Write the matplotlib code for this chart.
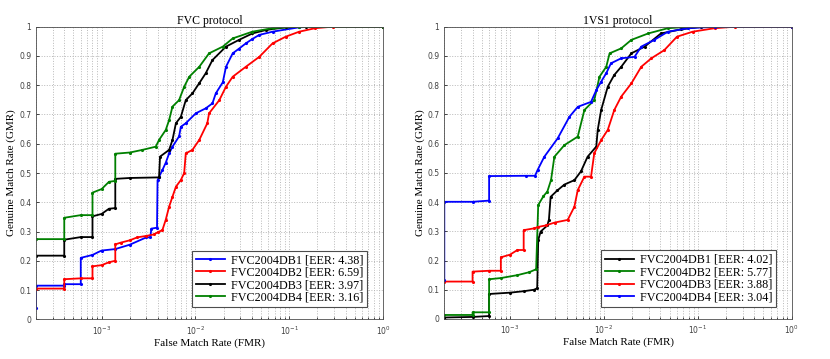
import numpy as np
import matplotlib
matplotlib.use("Agg")
import matplotlib.pyplot as plt
from matplotlib.ticker import LogLocator, FixedLocator, FuncFormatter, NullFormatter

# ---- FVC protocol (left) ----
fvc_db1_x = [2e-4, 2e-4, 4e-4, 4e-4, 6e-4, 6e-4, 8e-4, 1e-3, 1.4e-3, 2e-3, 3e-3, 3.3e-3, 3.4e-3, 3.9e-3, 3.95e-3,
             4.1e-3, 4.45e-3, 4.83e-3, 5.25e-3, 5.7e-3, 6.7e-3, 7.0e-3, 7.9e-3, 1.01e-2, 1.29e-2, 1.52e-2, 1.65e-2,
             1.96e-2, 2.12e-2, 2.5e-2, 2.92e-2, 3.45e-2, 4.05e-2, 4.8e-2, 6.65e-2, 0.128, 0.19, 1.0]
fvc_db1_y = [0.04, 0.115, 0.115, 0.12, 0.12, 0.21, 0.22, 0.235, 0.24, 0.255, 0.28, 0.28, 0.31, 0.313, 0.475,
             0.487, 0.51, 0.535, 0.567, 0.59, 0.625, 0.658, 0.67, 0.704, 0.721, 0.738, 0.772,
             0.81, 0.863, 0.909, 0.925, 0.943, 0.958, 0.972, 0.983, 0.998, 1.0, 1.0]

fvc_db2_x = [2e-4, 4e-4, 4e-4, 6e-4, 8e-4, 8e-4, 1e-3, 1.2e-3, 1.4e-3, 1.4e-3, 1.6e-3, 2e-3, 2.4e-3, 3e-3, 3.6e-3,
             4e-3, 4.45e-3, 4.83e-3, 5.25e-3, 5.7e-3, 6.2e-3, 7.0e-3, 7.6e-3, 7.9e-3, 9.3e-3, 1.1e-2, 1.34e-2,
             1.4e-2, 1.8e-2, 2.12e-2, 2.5e-2, 3.45e-2, 4.8e-2, 6.65e-2, 9.2e-2, 0.128, 0.19, 0.29, 1.0]
fvc_db2_y = [0.105, 0.105, 0.137, 0.14, 0.14, 0.181, 0.185, 0.195, 0.2, 0.256, 0.262, 0.27, 0.28, 0.285, 0.29,
             0.298, 0.305, 0.34, 0.385, 0.419, 0.453, 0.476, 0.5, 0.567, 0.579, 0.613, 0.67,
             0.704, 0.749, 0.795, 0.829, 0.863, 0.897, 0.943, 0.966, 0.983, 0.995, 1.0, 1.0]

fvc_db3_x = [2e-4, 4e-4, 4e-4, 6e-4, 8e-4, 8e-4, 1e-3, 1.2e-3, 1.4e-3, 1.4e-3, 2e-3, 4.1e-3, 4.2e-3, 5.25e-3,
             5.7e-3, 6.2e-3, 7.0e-3, 7.9e-3, 9.3e-3, 1.1e-2, 1.29e-2, 1.52e-2, 2.12e-2, 2.92e-2, 4.05e-2, 5.7e-2,
             9.2e-2, 0.15, 1.0]
fvc_db3_y = [0.2175, 0.2175, 0.272, 0.281, 0.281, 0.352, 0.36, 0.378, 0.38, 0.48, 0.483, 0.485, 0.556, 0.579,
             0.613, 0.67, 0.692, 0.749, 0.772, 0.807, 0.841, 0.886, 0.932, 0.955, 0.977, 0.989,
             0.998, 1.0, 1.0]

fvc_db4_x = [2e-4, 4e-4, 4e-4, 6e-4, 8e-4, 8e-4, 1e-3, 1.2e-3, 1.4e-3, 1.4e-3, 2e-3, 2.72e-3, 3.78e-3, 4.1e-3,
             4.83e-3, 5.25e-3, 5.7e-3, 6.7e-3, 7.6e-3, 8.6e-3, 1.1e-2, 1.4e-2, 1.96e-2, 2.5e-2, 4.05e-2, 6.65e-2,
             0.128, 1.0]
fvc_db4_y = [0.274, 0.274, 0.347, 0.356, 0.356, 0.433, 0.445, 0.47, 0.473, 0.566, 0.57, 0.579, 0.59, 0.613,
             0.647, 0.681, 0.727, 0.749, 0.795, 0.829, 0.863, 0.909, 0.932, 0.96, 0.983, 0.995,
             1.0, 1.0]

fvc_labels = ["FVC2004DB1 [EER: 4.38]", "FVC2004DB2 [EER: 6.59]",
              "FVC2004DB3 [EER: 3.97]", "FVC2004DB4 [EER: 3.16]"]

# ---- 1VS1 protocol (right) ----
v1_db1_x = [2e-4, 4e-4, 6e-4, 6e-4, 1e-3, 1.4e-3, 1.8e-3, 1.95e-3, 2e-3, 2.12e-3, 2.5e-3, 2.6e-3, 2.71e-3,
            3.2e-3, 3.8e-3, 4.85e-3, 5.7e-3, 6.7e-3, 8.3e-3, 8.6e-3, 9.35e-3, 1.1e-2, 1.29e-2, 1.53e-2, 1.96e-2,
            2.72e-2, 4.05e-2, 6.6e-2, 0.109, 1.0]
v1_db1_y = [0.005, 0.007, 0.01, 0.0855, 0.09, 0.095, 0.1, 0.105, 0.27, 0.299, 0.32, 0.34, 0.418,
            0.44, 0.46, 0.475, 0.505, 0.555, 0.59, 0.647, 0.715, 0.795, 0.835, 0.863, 0.909,
            0.932, 0.977, 0.991, 1.0, 1.0]

v1_db2_x = [2e-4, 4e-4, 4e-4, 6e-4, 6e-4, 8e-4, 1.2e-3, 1.6e-3, 1.9e-3, 2e-3, 2.27e-3, 2.5e-3, 2.74e-3,
            2.97e-3, 3.8e-3, 5.27e-3, 6.2e-3, 7.9e-3, 8.98e-3, 1.06e-2, 1.15e-2, 1.53e-2, 1.96e-2, 2.96e-2,
            4.8e-2, 7.9e-2, 1.0]
v1_db2_y = [0.0137, 0.0137, 0.0228, 0.0228, 0.136, 0.14, 0.15, 0.16, 0.17, 0.39, 0.42, 0.436, 0.476,
            0.555, 0.595, 0.624, 0.715, 0.749, 0.829, 0.863, 0.909, 0.926, 0.955, 0.977,
            0.995, 1.0, 1.0]

v1_db3_x = [2e-4, 4e-4, 4e-4, 6e-4, 8e-4, 8e-4, 1e-3, 1.2e-3, 1.4e-3, 1.4e-3, 1.8e-3, 2e-3, 2.4e-3, 3e-3,
            4.12e-3, 4.85e-3, 5.27e-3, 6.2e-3, 7.3e-3, 7.9e-3, 9.35e-3, 1.1e-2, 1.29e-2, 1.53e-2, 1.96e-2,
            2.5e-2, 3.2e-2, 4.4e-2, 6.0e-2, 8.8e-2, 0.151, 0.246, 1.0]
v1_db3_y = [0.128, 0.128, 0.162, 0.165, 0.165, 0.211, 0.22, 0.236, 0.236, 0.304, 0.31, 0.315, 0.32, 0.33,
            0.339, 0.384, 0.441, 0.487, 0.487, 0.567, 0.612, 0.647, 0.715, 0.761, 0.806,
            0.863, 0.892, 0.92, 0.966, 0.983, 0.995, 1.0, 1.0]

v1_db4_x = [2e-4, 2e-4, 4e-4, 6e-4, 6e-4, 1.5e-3, 1.85e-3, 1.97e-3, 2.32e-3, 3.22e-3, 4.3e-3, 5.27e-3, 7.3e-3,
            8.3e-3, 9.35e-3, 1.06e-2, 1.19e-2, 1.53e-2, 2.12e-2, 2.5e-2, 3.44e-2, 4.8e-2, 7.9e-2, 0.151, 1.0]
v1_db4_y = [0.133, 0.401, 0.401, 0.405, 0.489, 0.49, 0.49, 0.51, 0.555, 0.618, 0.692, 0.726, 0.743,
            0.783, 0.812, 0.841, 0.875, 0.892, 0.897, 0.932, 0.955, 0.983, 0.995, 1.0, 1.0]

v1_labels = ["FVC2004DB1 [EER: 4.02]", "FVC2004DB2 [EER: 5.77]",
             "FVC2004DB3 [EER: 3.88]", "FVC2004DB4 [EER: 3.04]"]

serif = ["Liberation Serif", "DejaVu Serif"]

fig = plt.figure(figsize=(8.3, 3.59), dpi=100)
ax1 = fig.add_axes([0.0434, 0.1106, 0.418, 0.815])
ax2 = fig.add_axes([0.5353, 0.1115, 0.4186, 0.814])


def setup(ax, title):
    ax.set_xscale("log")
    ax.set_xlim(2e-4, 1.0)
    ax.set_ylim(0, 1)
    ax.xaxis.set_major_locator(FixedLocator([1e-3, 1e-2, 1e-1, 1e0]))
    ax.xaxis.set_minor_locator(LogLocator(base=10, subs=np.arange(2, 10), numticks=20))
    ax.xaxis.set_minor_formatter(NullFormatter())
    ax.xaxis.set_major_formatter(FuncFormatter(lambda v, p: "$10^{%d}$" % round(np.log10(v))))
    ax.set_yticks(np.arange(0, 1.01, 0.1))
    ax.yaxis.set_major_formatter(FuncFormatter(lambda v, p: "%g" % round(v, 1)))
    ax.grid(True, which="major", linestyle=":", color="0.72", lw=0.7)
    ax.xaxis.grid(True, which="minor", linestyle=":", color="0.72", lw=0.7)
    ax.tick_params(which="both", direction="in", labelsize=5.5, length=2.5, width=0.5,
                   labelcolor="0.25")
    ax.tick_params(which="minor", length=1.5)
    for s in ax.spines.values():
        s.set_linewidth(0.6)
        s.set_color("0.3")
    ax.set_title(title, fontsize=8.5, family=serif, pad=2)
    ax.set_xlabel("False Match Rate (FMR)", fontsize=8, family=serif, labelpad=1)
    ax.set_ylabel("Genuine Match Rate (GMR)", fontsize=8, family=serif, labelpad=2)


def draw(ax, series, colors, labels):
    for (x, y), c, lab in zip(series, colors, labels):
        ax.plot(x, y, color=c, lw=1.3, marker=".", ms=2.5, label=lab)
    leg = ax.legend(loc="lower right", prop={"family": serif, "size": 8.7}, fancybox=False,
                    edgecolor="0.3", framealpha=1, handlelength=2.4, labelspacing=0.04,
                    borderpad=0.3, handletextpad=0.5, borderaxespad=0,
                    bbox_to_anchor=(0.954, 0.041))
    leg.get_frame().set_linewidth(0.8)


setup(ax1, "FVC protocol")
draw(ax1, [(fvc_db1_x, fvc_db1_y), (fvc_db2_x, fvc_db2_y), (fvc_db3_x, fvc_db3_y), (fvc_db4_x, fvc_db4_y)],
     ["#0000ff", "#ff0000", "#000000", "#008000"], fvc_labels)

setup(ax2, "1VS1 protocol")
draw(ax2, [(v1_db1_x, v1_db1_y), (v1_db2_x, v1_db2_y), (v1_db3_x, v1_db3_y), (v1_db4_x, v1_db4_y)],
     ["#000000", "#008000", "#ff0000", "#0000ff"], v1_labels)

fig.savefig("out.png", dpi=100)
